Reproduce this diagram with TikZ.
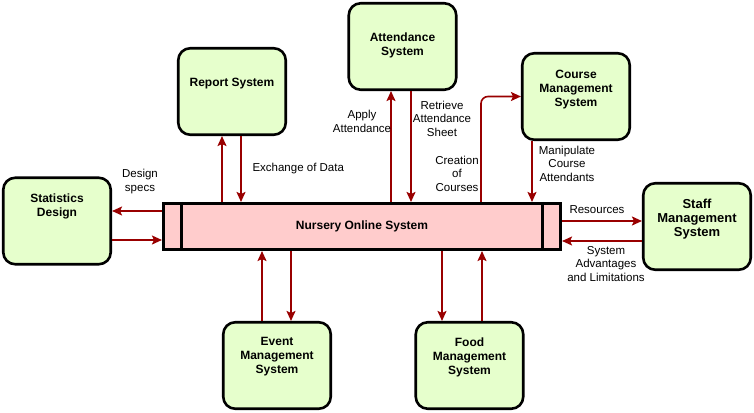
\documentclass[tikz,border=0pt]{standalone}
\usepackage{fontspec}
\setmainfont{Liberation Sans}
\definecolor{boxgreen}{HTML}{E6FFCC}
\definecolor{boxpink}{HTML}{FFCCCC}
\definecolor{flowred}{HTML}{990000}
\usetikzlibrary{arrows.meta,positioning,calc}

\begin{document}
\begin{tikzpicture}[x=1pt, y=-1pt,
  sysbox/.style={draw=black, line width=2.6pt, fill=boxgreen, rounded corners=12pt,
    minimum width=107.5pt, minimum height=86.5pt, inner sep=0pt},
  boxtext/.style={font=\bfseries\fontsize{12}{14}\selectfont, align=center},
  flow/.style={draw=flowred, line width=1.6pt, -{Stealth[length=10pt,width=9pt,inset=2pt]}},
  flowlabel/.style={font=\fontsize{11.5}{13.5}\selectfont, align=center}]
\useasboundingbox (0,0) rectangle (754,412);
% Central system
\node[draw=black, line width=2.6pt, fill=boxpink, minimum width=397.5pt, minimum height=46.5pt,
  inner sep=0pt, boxtext] (main) at (362,226.5) {Nursery Online System};
\draw[line width=2.6pt] ([xshift=19.5]main.north west) -- ([xshift=19.5]main.south west);
\draw[line width=2.6pt] ([xshift=-19.5]main.north east) -- ([xshift=-19.5]main.south east);
% External systems
\node[sysbox, label={[boxtext, yshift=15]center:Statistics\\Design}] (stat) at (57,221) {};
\node[sysbox, label={[boxtext, yshift=8]center:Report System}] (rep) at (232,91.5) {};
\node[sysbox, label={[boxtext, yshift=1.5]center:Attendance\\System}] (att) at (402.5,46.5) {};
\node[sysbox, label={[boxtext, yshift=7]center:Course\\Management\\System}] (crs) at (576,96.5) {};
\node[sysbox, label={[boxtext, font=\bfseries\fontsize{13}{14}\selectfont, yshift=7.5]center:Staff\\Management\\System}] (stf) at (697,226.5) {};
\node[sysbox, label={[boxtext, yshift=8.5]center:Event\\Management\\System}] (evt) at (277,365.5) {};
\node[sysbox, label={[boxtext, yshift=8.5]center:Food\\Management\\System}] (food) at (469.5,365.5) {};
% Data flows
\draw[flow] ([yshift=15.5]main.west) -- ([yshift=15.5]main.west -| stat.east);
\draw[flow] ([yshift=-13.5]main.west -| stat.east) -- ([yshift=-13.5]main.west);
\draw[flow] ([xshift=-10]rep.south |- main.north) -- ([xshift=-10]rep.south);
\draw[flow] ([xshift=9]rep.south) -- ([xshift=9]rep.south |- main.north);
\draw[flow] ([xshift=-11.5]att.south |- main.north) -- ([xshift=-11.5]att.south);
\draw[flow] ([xshift=8.5]att.south) -- ([xshift=8.5]att.south |- main.north);
\draw[flow, rounded corners=7pt] ([xshift=119]main.north) |- (crs.west);
\draw[flow] ([xshift=-44]crs.south) -- ([xshift=-44]crs.south |- main.north);
\draw[flow] ([yshift=5.5]main.east) -- ([yshift=5.5]main.east -| stf.west);
\draw[flow] ([yshift=-14.5]main.east -| stf.west) -- ([yshift=-14.5]main.east);
\draw[flow] ([xshift=-15]evt.north) -- ([xshift=-15]evt.north |- main.south);
\draw[flow] ([xshift=14]evt.north |- main.south) -- ([xshift=14]evt.north);
\draw[flow] ([xshift=-27.5]food.north |- main.south) -- ([xshift=-27.5]food.north);
\draw[flow] ([xshift=12.5]food.north) -- ([xshift=12.5]food.north |- main.south);
% Flow labels
\node[flowlabel] (lspecs) at (140,181.5) {Design\\specs};
\node[flowlabel, anchor=west] (ldata) at (249,169) {Exchange of Data};
\node[flowlabel] (lapply) at (362,121.5) {Apply\\Attendance};
\node[flowlabel] (lsheet) at (442,118.5) {Retrieve\\Attendance\\Sheet};
\node[flowlabel] (lcreate) at (457,173.5) {Creation\\of\\Courses};
\node[flowlabel] (lmanip) at (567,163.5) {Manipulate\\Course\\Attendants};
\node[flowlabel] (lres) at (597,210) {Resources};
\node[flowlabel] (ladv) at (606,264) {System\\Advantages\\and Limitations};
\end{tikzpicture}
\end{document}
